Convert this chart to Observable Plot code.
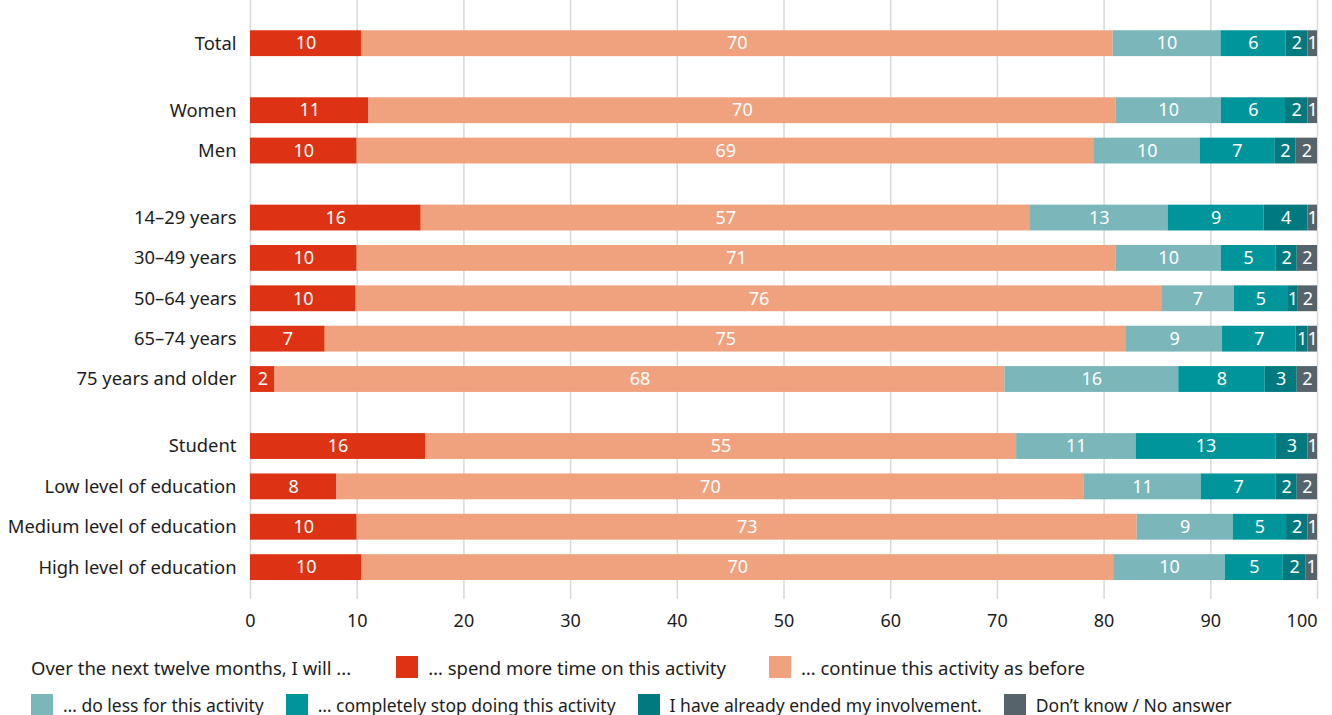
<!DOCTYPE html>
<html>
<head>
<meta charset="utf-8">
<script src="https://cdn.jsdelivr.net/npm/d3@7"></script>
<script src="https://cdn.jsdelivr.net/npm/@observablehq/plot@0.6"></script>
<style>
  body { margin: 0; background: #fff; font-family: "Noto Sans", Lato, sans-serif; color: #1d1d1d; }
  #legend { padding-left: 31px; }
  .lrow { display: flex; align-items: center; height: 38px; white-space: nowrap; }
  .row1 { font-size: 18.5px; }
  .row2 { font-size: 17.5px; }
  .item { display: flex; align-items: center; }
  .sw { width: 22px; height: 22px; margin-right: 10px; flex: none; }
  .row1 .item { margin-left: 45px; }
  .row1 .item + .item { margin-left: 43px; }
  .row2 .item + .item { margin-left: 22px; }
</style>
</head>
<body>
<div id="chart"></div>
<div id="legend"></div>
<script>
// Respondent groups, top to bottom; a blank gap separates each group
const groups = [
  ["Total"],
  ["Women", "Men"],
  ["14–29 years", "30–49 years", "50–64 years", "65–74 years", "75 years and older"],
  ["Student", "Low level of education", "Medium level of education", "High level of education"]
];

const legendTitle = "Over the next twelve months, I will ...";
const series = [
  "… spend more time on this activity",
  "… continue this activity as before",
  "… do less for this activity",
  "… completely stop doing this activity",
  "I have already ended my involvement.",
  "Don’t know / No answer"
];
const colors = ["#dd3314", "#f0a27f", "#7bb6bb", "#00959a", "#007a7f", "#56636b"];

// Shares in percent, one value per respondent group (same order as above)
const moreTime = [10.4, 11.1, 10.0, 16.0, 10.0, 9.9, 7.0, 2.3, 16.4, 8.1, 10.0, 10.45];
const continueAsBefore = [70.45, 70.0, 69.1, 57.1, 71.1, 75.5, 75.1, 68.4, 55.4, 70.0, 73.1, 70.45];
const doLess = [10.1, 9.9, 9.9, 12.9, 9.9, 6.8, 9.0, 16.3, 11.2, 11.0, 9.0, 10.45];
const stopCompletely = [6.1, 6.0, 7.0, 9.0, 5.1, 5.0, 6.9, 8.1, 13.1, 7.0, 5.0, 5.45];
const alreadyEnded = [2.05, 2.1, 2.0, 4.1, 2.0, 1.0, 1.1, 3.0, 3.0, 2.0, 2.0, 2.1];
const dontKnow = [0.9, 0.9, 2.0, 0.9, 1.9, 1.8, 0.9, 1.9, 0.9, 1.9, 0.9, 1.1];

const xTicks = [0, 10, 20, 30, 40, 50, 60, 70, 80, 90, 100];

const seriesValues = [moreTime, continueAsBefore, doLess, stopCompletely, alreadyEnded, dontKnow];

// Row positions in units of one row step; groups are separated by an extra gap
const groupGap = 0.66;
const rows = [];
{
  let p = 0;
  groups.forEach(g => {
    g.forEach(name => { rows.push({name, pos: p}); p += 1; });
    p += groupGap;
  });
}
const nameByPos = new Map(rows.map(r => [r.pos, r.name]));
const lastPos = rows[rows.length - 1].pos;

// Stacked segments: cumulative start/end per row
const segments = [];
rows.forEach((r, i) => {
  let acc = 0;
  series.forEach((s, j) => {
    const v = seriesValues[j][i];
    segments.push({name: r.name, pos: r.pos, series: s, value: v, x1: acc, x2: acc + v});
    acc += v;
  });
});

const halfBar = 0.32;

const chart = Plot.plot({
  width: 1332,
  height: 640,
  marginLeft: 250,
  marginRight: 15,
  marginTop: 0,
  marginBottom: 41,
  style: {fontFamily: "'Noto Sans', Lato, sans-serif", fontSize: "18px", color: "#1d1d1d", background: "#fff"},
  x: {domain: [0, 100]},
  y: {domain: [-1.07, lastPos + 0.79], reverse: true},
  color: {domain: series, range: colors},
  marks: [
    Plot.ruleX(xTicks, {stroke: "#d9d9d9", strokeWidth: 1.5}),
    Plot.rect(segments, {
      x1: "x1", x2: "x2",
      y1: d => d.pos - halfBar, y2: d => d.pos + halfBar,
      fill: "series"
    }),
    Plot.text(segments, {
      x: d => (d.x1 + d.x2) / 2,
      y: "pos",
      text: d => String(Math.round(d.value)),
      fill: "white",
      fontSize: 18
    }),
    Plot.axisY({
      ticks: rows.map(r => r.pos),
      tickFormat: p => nameByPos.get(p),
      tickSize: 0, tickPadding: 14, fontSize: 18.4, label: null
    }),
    Plot.axisX({
      ticks: xTicks.slice(0, -1),
      tickSize: 0, tickPadding: 15, fontSize: 18, label: null
    }),
    Plot.axisX({
      ticks: xTicks.slice(-1),
      tickSize: 0, tickPadding: 15, fontSize: 18, textAnchor: "end", label: null
    })
  ]
});
document.getElementById("chart").appendChild(chart);

// Legend below the chart: title with the first two categories, then the rest
const legend = document.getElementById("legend");
function item(i) {
  const el = document.createElement("div");
  el.className = "item";
  const sw = document.createElement("span");
  sw.className = "sw";
  sw.style.background = colors[i];
  const tx = document.createElement("span");
  tx.textContent = series[i];
  el.append(sw, tx);
  return el;
}
const row1 = document.createElement("div");
row1.className = "lrow row1";
const title = document.createElement("span");
title.textContent = legendTitle;
row1.append(title, item(0), item(1));
const row2 = document.createElement("div");
row2.className = "lrow row2";
row2.append(item(2), item(3), item(4), item(5));
legend.style.marginTop = "8px";
legend.append(row1, row2);
</script>
</body>
</html>
